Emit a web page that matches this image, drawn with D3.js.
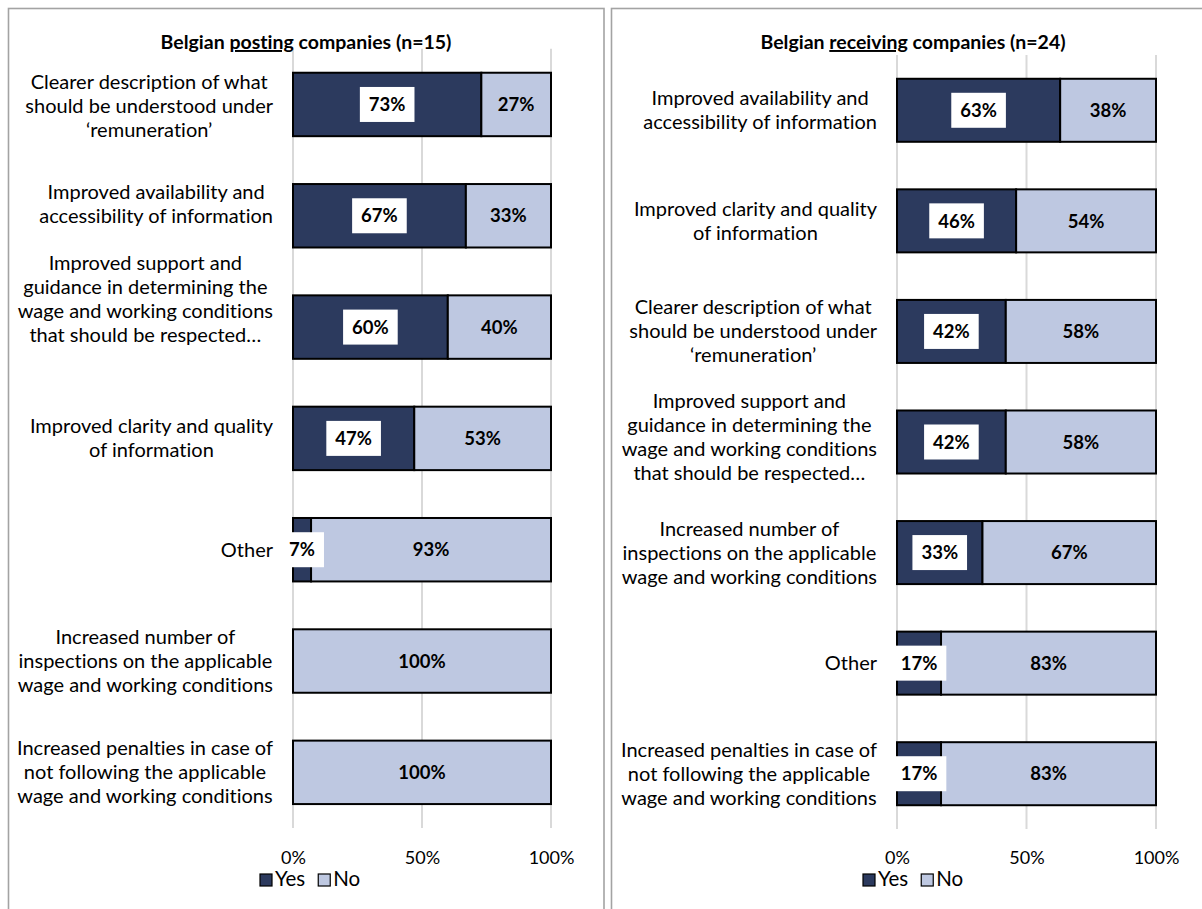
<!DOCTYPE html>
<html>
<head>
<meta charset="utf-8">
<script src="https://cdn.jsdelivr.net/npm/d3@7"></script>
<style>
  body { margin: 0; background: #ffffff; }
  svg text { font-family: Lato, "Open Sans", sans-serif; fill: #000; font-variant-ligatures: none; }
</style>
</head>
<body>
<svg id="chart" width="1202" height="909"></svg>
<script>
// Survey answers: share of companies saying Yes / No to each improvement.
const seriesNames = ["Yes", "No"];
const tickValues = [0, 50, 100];

const postingCategories = [
  ["Clearer description of what", "should be understood under", "\u2018remuneration\u2019"],
  ["Improved availability and", "accessibility of information"],
  ["Improved support and", "guidance in determining the", "wage and working conditions", "that should be respected\u2026"],
  ["Improved clarity and quality", "of information"],
  ["Other"],
  ["Increased number of", "inspections on the applicable", "wage and working conditions"],
  ["Increased penalties in case of", "not following the applicable", "wage and working conditions"]
];
const postingYes = [73, 67, 60, 47, 7, 0, 0];
const postingNo  = [27, 33, 40, 53, 93, 100, 100];

const receivingCategories = [
  ["Improved availability and", "accessibility of information"],
  ["Improved clarity and quality", "of information"],
  ["Clearer description of what", "should be understood under", "\u2018remuneration\u2019"],
  ["Improved support and", "guidance in determining the", "wage and working conditions", "that should be respected\u2026"],
  ["Increased number of", "inspections on the applicable", "wage and working conditions"],
  ["Other"],
  ["Increased penalties in case of", "not following the applicable", "wage and working conditions"]
];
const receivingYes = [63, 46, 42, 42, 33, 17, 17];
const receivingNo  = [38, 54, 58, 58, 67, 83, 83];

const colors = { Yes: "#2c3a5e", No: "#bec8e1" };
const fontSizes = { category: 20, value: 18.5, tick: 18, legend: 20.5, title: 19.5 };

const svg = d3.select("#chart");

function drawPanel(cfg) {
  const g = svg.append("g");

  // panel frame
  g.append("rect")
    .attr("x", cfg.frame[0]).attr("y", cfg.frame[1])
    .attr("width", cfg.frame[2]).attr("height", cfg.frame[3])
    .attr("fill", "none").attr("stroke", "#a3a3a3").attr("stroke-width", 1.6);

  const x = d3.scaleLinear().domain([0, 100]).range(cfg.xRange).clamp(true);
  const idx = d3.range(cfg.categories.length);
  const y = d3.scaleBand().domain(idx).range(cfg.yRange).paddingInner(0.43).paddingOuter(0.215);

  // vertical gridlines
  g.selectAll("line.grid").data(tickValues).join("line")
    .attr("x1", d => x(d)).attr("x2", d => x(d))
    .attr("y1", cfg.yRange[0]).attr("y2", cfg.yRange[1])
    .attr("stroke", "#d9d9d9").attr("stroke-width", 2);

  // x axis labels
  const axis = d3.axisBottom(x).tickValues(tickValues).tickFormat(d => d + "%").tickSize(0).tickPadding(0);
  const ax = g.append("g").attr("transform", `translate(0,${cfg.tickY})`).call(axis);
  ax.select(".domain").remove();
  ax.selectAll("text").attr("font-size", fontSizes.tick).attr("font-family", null).attr("fill", "#000").attr("dy", 0);

  // title with underlined keyword
  const title = g.append("text")
    .attr("x", cfg.titleX).attr("y", cfg.titleY)
    .attr("text-anchor", "middle").attr("font-size", fontSizes.title).attr("font-weight", "bold");
  title.append("tspan").text("Belgian ");
  title.append("tspan").text(cfg.titleKey).style("text-decoration", "underline");
  title.append("tspan").text(" " + cfg.titleRest);

  // stacked bars
  const rows = idx.map(i => ({ i, yes: cfg.yes[i], no: cfg.no[i] }));
  const bar = g.selectAll("g.row").data(rows).join("g").attr("class", "row");

  bar.append("rect")
    .attr("x", d => x(0)).attr("y", d => y(d.i))
    .attr("width", d => x(d.yes) - x(0)).attr("height", y.bandwidth())
    .attr("fill", colors.Yes).attr("stroke", "#000").attr("stroke-width", 2);
  bar.append("rect")
    .attr("x", d => x(d.yes)).attr("y", d => y(d.i))
    .attr("width", d => x(d.yes + d.no) - x(d.yes)).attr("height", y.bandwidth())
    .attr("fill", colors.No).attr("stroke", "#000").attr("stroke-width", 2);

  // Yes value labels on a white box
  bar.filter(d => d.yes > 0).each(function (d) {
    const row = d3.select(this);
    const cx = (x(0) + x(d.yes)) / 2;
    const cy = y(d.i) + y.bandwidth() / 2;
    const box = row.append("rect").attr("fill", "#fff");
    const t = row.append("text")
      .attr("x", cx).attr("y", cy).attr("dy", "0.36em")
      .attr("text-anchor", "middle").attr("font-size", fontSizes.value).attr("font-weight", "bold")
      .text(d.yes + "%");
    const w = t.node().getComputedTextLength() + 18;
    box.attr("x", cx - w / 2).attr("y", cy - 17.5).attr("width", w).attr("height", 35);
  });

  // No value labels
  bar.filter(d => d.no > 0).append("text")
    .attr("x", d => (x(d.yes) + x(d.yes + d.no)) / 2)
    .attr("y", d => y(d.i) + y.bandwidth() / 2).attr("dy", "0.36em")
    .attr("text-anchor", "middle").attr("font-size", fontSizes.value).attr("font-weight", "bold")
    .text(d => d.no + "%");

  // category labels: block right-aligned to the axis, lines centred within block
  const lineH = 24;
  idx.forEach(i => {
    const lines = cfg.categories[i];
    const cy = y(i) + y.bandwidth() / 2 + (cfg.labelShift[i] || 0);
    const lg = g.append("g");
    const texts = lines.map((s, k) => lg.append("text")
      .attr("y", cy + (k - (lines.length - 1) / 2) * lineH).attr("dy", "0.35em")
      .attr("text-anchor", "middle").attr("font-size", fontSizes.category).text(s));
    const bw = d3.max(texts, t => t.node().getComputedTextLength());
    const right = x(0) - 20;
    texts.forEach(t => t.attr("x", right - bw / 2));
  });

  // legend
  const lg = g.append("g").attr("transform", `translate(${cfg.legendX},${cfg.legendY})`);
  let off = 0;
  seriesNames.forEach(name => {
    lg.append("rect").attr("x", off).attr("y", -12).attr("width", 12).attr("height", 12)
      .attr("fill", colors[name]).attr("stroke", "#000").attr("stroke-width", 1.2);
    const t = lg.append("text").attr("x", off + 15).attr("y", 0).attr("font-size", fontSizes.legend).text(name);
    off += 15 + t.node().getComputedTextLength() + 13;
  });
}

drawPanel({
  frame: [8.5, 8.5, 595.5, 920],
  xRange: [293, 551], yRange: [48.8, 828],
  categories: postingCategories, yes: postingYes, no: postingNo,
  labelShift: [1.5, -12, -28, 0, 0, 0, 0],
  titleX: 306, titleY: 49, titleKey: "posting", titleRest: "companies (n=15)",
  tickY: 864, legendX: 260, legendY: 886
});

drawPanel({
  frame: [611.5, 8.5, 620, 920],
  xRange: [897, 1156], yRange: [55, 829],
  categories: receivingCategories, yes: receivingYes, no: receivingNo,
  labelShift: [0, 0, 0, -5, 0, 0, 0],
  titleX: 913, titleY: 49, titleKey: "receiving", titleRest: "companies (n=24)",
  tickY: 864, legendX: 863, legendY: 886
});
</script>
</body>
</html>
